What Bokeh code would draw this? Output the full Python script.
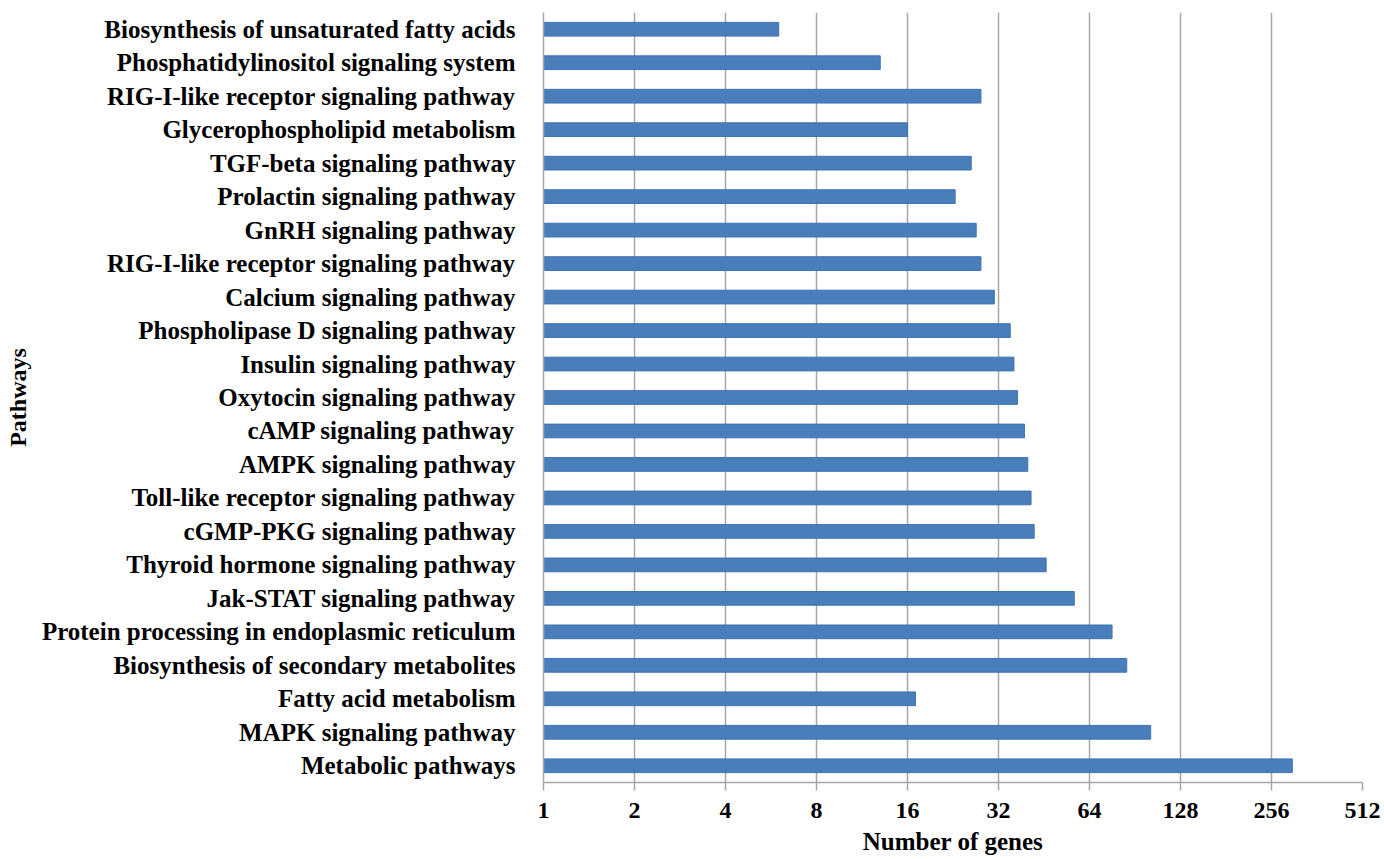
from bokeh.plotting import figure
from bokeh.models import FixedTicker, Range1d, ColumnDataSource
from bokeh.embed import file_html
from bokeh.resources import INLINE

# Pathways listed top to bottom as in the reference
pathways = [
    "Biosynthesis of unsaturated fatty acids",
    "Phosphatidylinositol signaling system",
    "RIG-I-like receptor signaling pathway",
    "Glycerophospholipid metabolism",
    "TGF-beta signaling pathway",
    "Prolactin signaling pathway",
    "GnRH signaling pathway",
    "RIG-I-like receptor signaling pathway",
    "Calcium signaling pathway",
    "Phospholipase D signaling pathway",
    "Insulin signaling pathway",
    "Oxytocin signaling pathway",
    "cAMP signaling pathway",
    "AMPK signaling pathway",
    "Toll-like receptor signaling pathway",
    "cGMP-PKG signaling pathway",
    "Thyroid hormone signaling pathway",
    "Jak-STAT signaling pathway",
    "Protein processing in endoplasmic reticulum",
    "Biosynthesis of secondary metabolites",
    "Fatty acid metabolism",
    "MAPK signaling pathway",
    "Metabolic pathways",
]
gene_counts = [6, 13, 28, 16, 26, 23, 27, 28, 31, 35, 36, 37, 39, 40, 41, 42,
               46, 57, 76, 85, 17, 102, 300]
x_ticks = [1, 2, 4, 8, 16, 32, 64, 128, 256, 512]
x_tick_labels = ["1", "2", "4", "8", "16", "32", "64", "128", "256", "512"]

FONT = "Liberation Serif"
GRID = "#a6a6a6"
BAR = "#4a7ebb"

n = len(pathways)
ypos = [n - i for i in range(n)]  # top item gets highest position
src = ColumnDataSource(dict(y=ypos, right=gene_counts, left=[1] * n))

p = figure(width=1380, height=859, x_axis_type="log",
           x_range=Range1d(1, 512), y_range=Range1d(0.5, n + 0.5),
           output_backend="svg", toolbar_location=None,
           min_border_left=543, min_border_right=18, min_border_top=12,
           min_border_bottom=77)

p.hbar(y="y", left="left", right="right", height=0.41, source=src,
       fill_color=BAR, line_color="#3f73b3", line_width=1)

# x axis
p.xaxis.ticker = FixedTicker(ticks=x_ticks)
p.xaxis.major_label_overrides = {t: l for t, l in zip(x_ticks, x_tick_labels)}
p.xaxis.minor_tick_line_color = None
p.xaxis.major_tick_in = 0
p.xaxis.major_tick_out = 8
p.xaxis.major_tick_line_color = GRID
p.xaxis.major_tick_line_width = 1.5
p.xaxis.axis_line_color = GRID
p.xaxis.axis_line_width = 1.5
p.xaxis.major_label_text_font = FONT
p.xaxis.major_label_text_font_style = "bold"
p.xaxis.major_label_text_font_size = "24px"
p.xaxis.major_label_text_color = "black"
p.xaxis.major_label_standoff = 12
p.xaxis.axis_label = "Number of genes"
p.xaxis.axis_label_text_font = FONT
p.xaxis.axis_label_text_font_style = "bold"
p.xaxis.axis_label_text_font_size = "25px"
p.xaxis.axis_label_text_color = "black"
p.xaxis.axis_label_standoff = 7

# y axis
p.yaxis.ticker = FixedTicker(ticks=ypos)
p.yaxis.major_label_overrides = {y: name for y, name in zip(ypos, pathways)}
p.yaxis.major_tick_line_color = None
p.yaxis.minor_tick_line_color = None
p.yaxis.axis_line_color = GRID
p.yaxis.axis_line_width = 1.5
p.yaxis.major_label_text_font = FONT
p.yaxis.major_label_text_font_style = "bold"
p.yaxis.major_label_text_font_size = "25px"
p.yaxis.major_label_text_color = "black"
p.yaxis.major_label_standoff = 22
p.yaxis.axis_label = "Pathways"
p.yaxis.axis_label_text_font = FONT
p.yaxis.axis_label_text_font_style = "bold"
p.yaxis.axis_label_text_font_size = "24px"
p.yaxis.axis_label_text_color = "black"
p.yaxis.axis_label_standoff = 8

# grid
p.xgrid.grid_line_color = GRID
p.xgrid.grid_line_width = 1.5
p.ygrid.grid_line_color = None
p.outline_line_color = None
p.background_fill_color = "white"

open("out.html", "w").write(file_html(p, INLINE))
